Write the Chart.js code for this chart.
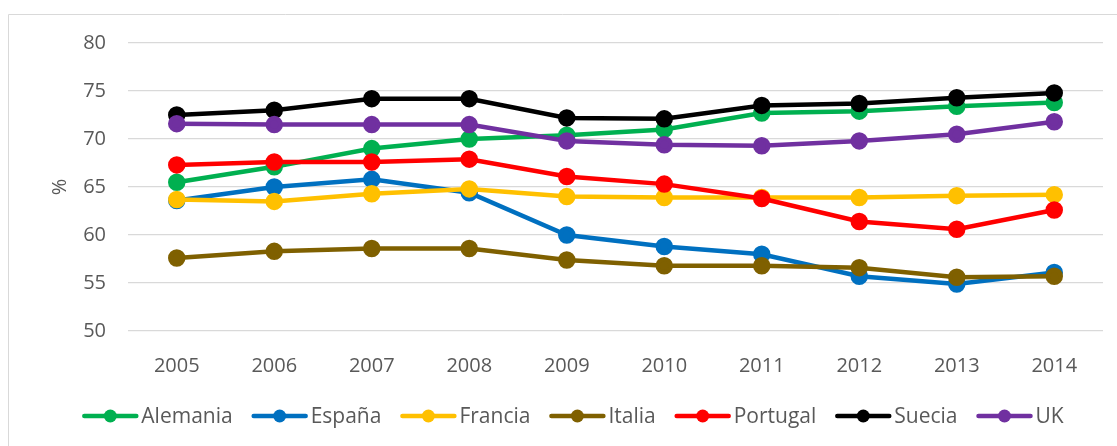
<!DOCTYPE html>
<html>
<head>
<meta charset="utf-8">
<script src="https://cdn.jsdelivr.net/npm/chart.js@4.4.1/dist/chart.umd.min.js"></script>
<style>
    html, body { margin: 0; padding: 0; background: #ffffff; }
    #wrap { position: relative; width: 1117px; height: 446px; }
</style>
</head>
<body>
<div id="wrap"><canvas id="empleoChart" width="1117" height="446"></canvas></div>
<script>
// Data
const years = ["2005", "2006", "2007", "2008", "2009", "2010", "2011", "2012", "2013", "2014"];
const alemania = [65.5, 67.1, 69.0, 70.0, 70.4, 71.0, 72.7, 72.9, 73.4, 73.8];
const espana   = [63.6, 65.0, 65.8, 64.4, 60.0, 58.8, 58.0, 55.7, 54.9, 56.1];
const francia  = [63.7, 63.5, 64.3, 64.8, 64.0, 63.9, 63.9, 63.9, 64.1, 64.2];
const italia   = [57.6, 58.3, 58.6, 58.6, 57.4, 56.8, 56.8, 56.6, 55.6, 55.7];
const portugal = [67.3, 67.6, 67.6, 67.9, 66.1, 65.3, 63.8, 61.4, 60.6, 62.6];
const suecia   = [72.5, 73.0, 74.2, 74.2, 72.2, 72.1, 73.5, 73.7, 74.3, 74.8];
const uk       = [71.6, 71.5, 71.5, 71.5, 69.8, 69.4, 69.3, 69.8, 70.5, 71.8];
const yTicks = [50, 55, 60, 65, 70, 75, 80];

const seriesNames = ["Alemania", "España", "Francia", "Italia", "Portugal", "Suecia", "UK"];
const seriesData = [alemania, espana, francia, italia, portugal, suecia, uk];
const seriesColors = ["#00B050", "#0070C0", "#FFC000", "#7F6000", "#FF0000", "#000000", "#7030A0"];

const FONT = "'Open Sans', sans-serif";
const TEXT_COLOR = "#595959";

// Build datasets (later series drawn on top, like Excel)
const datasets = seriesNames.map((name, i) => ({
    label: name,
    data: seriesData[i],
    borderColor: seriesColors[i],
    backgroundColor: seriesColors[i],
    pointBackgroundColor: seriesColors[i],
    pointBorderColor: seriesColors[i],
    borderWidth: 4.5,
    pointRadius: 6.5,
    pointHoverRadius: 6.5,
    tension: 0,
    order: seriesNames.length - i
}));

// Frame lines of the chart box
const framePlugin = {
    id: "frame",
    beforeDraw(chart) {
        const ctx = chart.ctx;
        ctx.save();
        ctx.strokeStyle = "#d9d9d9";
        ctx.lineWidth = 1;
        ctx.beginPath();
        ctx.moveTo(8.5, 446);
        ctx.lineTo(8.5, 14.5);
        ctx.lineTo(1117, 14.5);
        ctx.stroke();
        ctx.restore();
    }
};

// Legend: line with a dot, then the name
const legendPlugin = {
    id: "lineLegend",
    afterDraw(chart) {
        const ctx = chart.ctx;
        const lineLen = 56;
        const textGap = 3;
        const itemGap = 19;
        const y = 416;
        ctx.save();
        ctx.font = "21px " + FONT;
        const widths = seriesNames.map(n => lineLen + textGap + ctx.measureText(n).width);
        const total = widths.reduce((a, b) => a + b, 0) + itemGap * (widths.length - 1);
        let x = 573 - total / 2;
        seriesNames.forEach((name, i) => {
            ctx.strokeStyle = seriesColors[i];
            ctx.fillStyle = seriesColors[i];
            ctx.lineWidth = 4.5;
            ctx.lineCap = "round";
            ctx.beginPath();
            ctx.moveTo(x + 2, y);
            ctx.lineTo(x + lineLen - 2, y);
            ctx.stroke();
            ctx.beginPath();
            ctx.arc(x + lineLen / 2, y, 6.5, 0, Math.PI * 2);
            ctx.fill();
            ctx.fillStyle = TEXT_COLOR;
            ctx.textBaseline = "middle";
            ctx.textAlign = "left";
            ctx.fillText(name, x + lineLen + textGap, y + 1);
            x += widths[i] + itemGap;
        });
        ctx.restore();
    }
};

const ctx = document.getElementById("empleoChart").getContext("2d");

new Chart(ctx, {
    type: "line",
    data: {
        labels: years,
        datasets: datasets
    },
    options: {
        responsive: false,
        animation: false,
        events: [],
        layout: {
            padding: { left: 0, right: 14, top: 43, bottom: 0 }
        },
        plugins: {
            legend: { display: false },
            tooltip: { enabled: false }
        },
        scales: {
            x: {
                offset: true,
                grid: { display: false },
                border: { display: false },
                ticks: {
                    color: TEXT_COLOR,
                    font: { family: FONT, size: 20 },
                    padding: 15,
                    maxRotation: 0
                },
                afterFit(scale) {
                    scale.height = 115;
                }
            },
            y: {
                min: 50,
                max: 80,
                afterBuildTicks(scale) {
                    scale.ticks = yTicks.map(v => ({ value: v }));
                },
                grid: { color: "#d9d9d9", lineWidth: 1.3, drawTicks: false },
                border: { display: false },
                ticks: {
                    color: TEXT_COLOR,
                    font: { family: FONT, size: 20 },
                    padding: 22
                },
                title: {
                    display: true,
                    text: "%",
                    color: TEXT_COLOR,
                    font: { family: FONT, size: 20 },
                    padding: { top: 48, bottom: 0 }
                },
                afterFit(scale) {
                    scale.width = 128;
                }
            }
        }
    },
    plugins: [framePlugin, legendPlugin]
});
</script>
</body>
</html>
